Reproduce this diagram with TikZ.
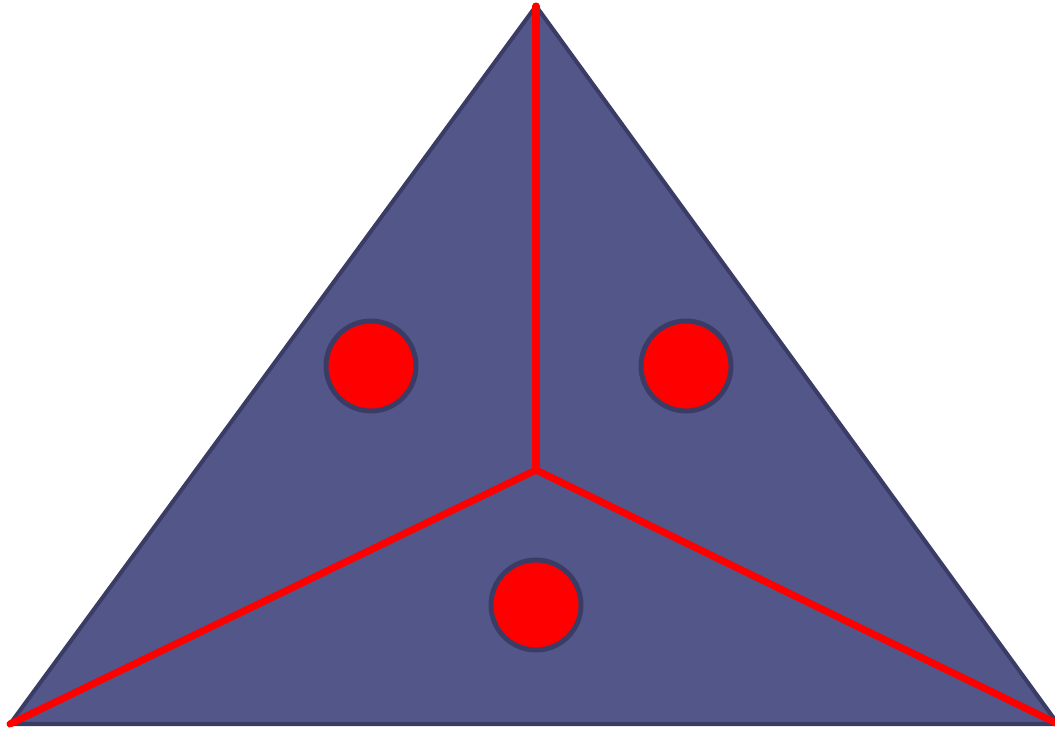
\documentclass[tikz,border=0pt]{standalone}
\usepackage{tikz}
\usetikzlibrary{calc}

\definecolor{facefill}{HTML}{525689}
\definecolor{faceedge}{HTML}{3B3C66}

\begin{document}
\begin{tikzpicture}[x=0.02cm,y=-0.02cm,
      seg/.style={red,line width=4pt,line cap=round},
      dot/.style={circle,draw=faceedge,fill=red,line width=2.8pt,minimum size=90*0.02cm,inner sep=0pt}
    ]
      \useasboundingbox (0,0) rectangle (1055,729);
      % triangle
      \coordinate (a) at (10,724);
      \coordinate (b) at (536,6);
      \coordinate (c) at (1058,724);
      \coordinate (m) at (536,470);
      \draw[fill=facefill,draw=faceedge,line width=2.3pt,line join=round] (a) -- (b) -- (c) -- cycle;

      % cuts
      \draw[seg] (m) -- (a);
      \draw[seg] (m) -- (b);
      \draw[seg] (m) -- (c);

      % dots
      \node[dot] (d1) at (371,366) {};
      \node[dot] (d2) at (686,366) {};
      \node[dot] (d3) at (536,605) {};
    \end{tikzpicture}
\end{document}
